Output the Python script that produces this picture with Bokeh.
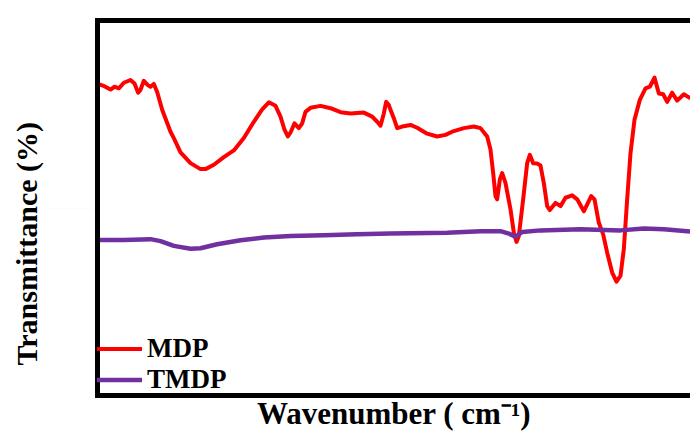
from bokeh.plotting import figure
from bokeh.models import (Range1d, LinearAxis, FixedTicker, Legend, LegendItem, Title,
                          CustomJSTickFormatter)
from bokeh.embed import file_html
from bokeh.resources import INLINE

# ---- data ----
series_names = ["MDP", "TMDP"]

mdp_wn = [4000, 3962, 3922, 3898, 3872, 3842, 3802, 3778, 3756, 3742, 3722, 3698, 3682, 3662, 3642,
          3612, 3562, 3542, 3502, 3442, 3382, 3352, 3302, 3242, 3182, 3122, 3062, 3012, 2972, 2932,
          2902, 2878, 2858, 2842, 2818, 2792, 2772, 2752, 2722, 2662, 2602, 2542, 2482, 2402, 2352,
          2322, 2302, 2282, 2268, 2252, 2242, 2222, 2202, 2172, 2122, 2082, 2022, 1962, 1912, 1872,
          1802, 1742, 1702, 1662, 1642, 1626, 1612, 1602, 1586, 1572, 1552, 1522, 1502, 1486, 1472,
          1446, 1422, 1406, 1386, 1362, 1342, 1322, 1302, 1286, 1252, 1222, 1192, 1152, 1122, 1082,
          1038, 1018, 992, 966, 942, 912, 886, 862, 842, 822, 802, 778, 746, 712, 686,
          658, 632, 606, 582, 552, 522, 482, 442]
mdp_t = [78.3, 77.8, 76.9, 77.6, 77.2, 78.6, 79.3, 78.4, 76.1, 76.8, 79.1, 78.0, 77.6, 78.3, 76.3,
         71.8, 66.3, 64.7, 61.1, 58.4, 56.9, 56.9, 58.0, 59.9, 61.6, 64.7, 68.8, 71.9, 73.7, 72.8,
         70.1, 66.8, 65.1, 66.1, 68.4, 67.2, 68.4, 71.3, 72.3, 72.8, 72.2, 71.2, 70.9, 71.1, 70.1,
         68.8, 67.8, 70.9, 73.8, 73.0, 71.8, 69.7, 67.2, 67.6, 68.0, 67.3, 65.8, 65.1, 65.5, 66.3,
         67.2, 67.6, 67.2, 65.1, 61.8, 55.9, 50.1, 49.3, 54.3, 55.9, 53.4, 46.8, 40.9, 38.6, 40.1,
         49.3, 58.4, 60.5, 58.4, 58.3, 57.8, 53.4, 47.6, 46.6, 48.4, 47.6, 49.7, 50.3, 49.3, 46.3,
         50.1, 49.3, 43.4, 40.5, 35.9, 30.9, 28.6, 30.1, 36.8, 49.3, 60.9, 69.3, 74.3, 77.2, 77.6,
         79.9, 75.9, 75.7, 73.8, 76.1, 74.1, 75.7, 74.7]

tmdp_wn = [4000, 3842, 3682, 3622, 3542, 3442, 3382, 3282, 3142, 3002, 2842, 2642, 2442, 2242,
           1902, 1702, 1582, 1532, 1492, 1452, 1342, 1102, 862, 722, 602, 442]
tmdp_t = [39.1, 39.1, 39.3, 38.8, 37.6, 36.9, 37.0, 38.0, 39.0, 39.7, 40.1, 40.3, 40.5, 40.7,
          40.9, 41.3, 41.3, 40.7, 39.9, 41.1, 41.5, 41.8, 41.5, 42.0, 41.8, 41.2]

x_title = "Wavenumber ( cm\u207b\u00b9)"
y_title = "Transmittance (%)"

FONT = "Liberation Serif"

p = figure(width=690, height=433, output_backend="svg", toolbar_location=None,
           x_range=Range1d(4000, 442), y_range=Range1d(0, 94.25),
           min_border_left=97, min_border_right=0, min_border_top=20, min_border_bottom=36)
p.outline_line_color = None
p.grid.visible = False
p.background_fill_color = "white"
p.border_fill_color = "white"


def style_axis(ax):
    ax.ticker = FixedTicker(ticks=[])
    ax.axis_line_width = 5
    ax.axis_line_color = "black"
    ax.axis_line_cap = "square"
    ax.major_tick_in = 0
    ax.major_tick_out = 0
    ax.minor_tick_in = 0
    ax.minor_tick_out = 0
    ax.major_label_standoff = 0
    ax.major_label_text_font_size = "0px"


bx = p.xaxis[0]
ly = p.yaxis[0]
style_axis(bx)
style_axis(ly)
# left axis: one hidden tick whose outward length keeps the y title away from the frame
ly.ticker = FixedTicker(ticks=[47])
ly.formatter = CustomJSTickFormatter(code="return ''")
ly.major_tick_out = 55
ly.major_tick_line_alpha = 0.01

bx.axis_label = x_title
bx.axis_label_text_font = FONT
bx.axis_label_text_font_style = "bold"
bx.axis_label_text_font_size = "31px"
bx.axis_label_text_color = "black"
bx.axis_label_standoff = 0

top = LinearAxis()
style_axis(top)
p.add_layout(top, "above")

ytitle = Title(text=y_title, align="left", offset=30, standoff=0,
               text_font=FONT, text_font_style="bold", text_font_size="30px",
               text_color="black")
p.add_layout(ytitle, "left")

r1 = p.line(mdp_wn, mdp_t, line_color="#FF0000", line_width=4, line_join="round")
r2 = p.line(tmdp_wn, tmdp_t, line_color="#7030A0", line_width=4.5, line_join="round")

legend = Legend(items=[LegendItem(label=series_names[0], renderers=[r1]),
                       LegendItem(label=series_names[1], renderers=[r2])],
                location=(-9, 0), orientation="vertical",
                glyph_width=54, glyph_height=29, label_height=29, label_standoff=5,
                spacing=0, padding=0, margin=0,
                background_fill_alpha=0, border_line_color=None,
                label_text_font=FONT, label_text_font_style="bold",
                label_text_font_size="27px", label_text_color="black")
p.add_layout(legend)

open("out.html", "w").write(file_html(p, INLINE))
